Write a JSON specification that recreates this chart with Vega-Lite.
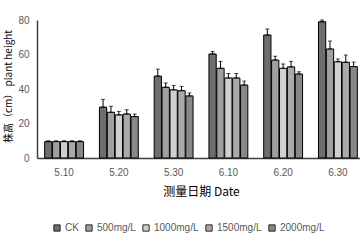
{
  "$schema": "https://vega.github.io/schema/vega-lite/v6.json",
  "autosize": "none",
  "width": 328,
  "height": 138,
  "padding": {"left": 37, "top": 20, "right": 0, "bottom": 82},
  "background": "white",
  "config": {
    "view": {"stroke": null},
    "font": "Liberation Sans",
    "axis": {"labelOverlap": false}
  },
  "data": {"values": [
    {"date": "5.10", "group": "CK", "value": 9.5, "upper": 10},
    {"date": "5.10", "group": "500mg/L", "value": 9.5, "upper": 10},
    {"date": "5.10", "group": "1000mg/L", "value": 9.5, "upper": 10},
    {"date": "5.10", "group": "1500mg/L", "value": 9.5, "upper": 10},
    {"date": "5.10", "group": "2000mg/L", "value": 9.5, "upper": 10},
    {"date": "5.20", "group": "CK", "value": 29.5, "upper": 34},
    {"date": "5.20", "group": "500mg/L", "value": 26.5, "upper": 30},
    {"date": "5.20", "group": "1000mg/L", "value": 25, "upper": 27},
    {"date": "5.20", "group": "1500mg/L", "value": 25.5, "upper": 28},
    {"date": "5.20", "group": "2000mg/L", "value": 24, "upper": 25.5},
    {"date": "5.30", "group": "CK", "value": 47.5, "upper": 51.5},
    {"date": "5.30", "group": "500mg/L", "value": 41, "upper": 43.5},
    {"date": "5.30", "group": "1000mg/L", "value": 39.5, "upper": 42},
    {"date": "5.30", "group": "1500mg/L", "value": 39, "upper": 41.5},
    {"date": "5.30", "group": "2000mg/L", "value": 36, "upper": 37.7},
    {"date": "6.10", "group": "CK", "value": 60.3, "upper": 61.8},
    {"date": "6.10", "group": "500mg/L", "value": 52, "upper": 56},
    {"date": "6.10", "group": "1000mg/L", "value": 46.4, "upper": 49},
    {"date": "6.10", "group": "1500mg/L", "value": 46.4, "upper": 49},
    {"date": "6.10", "group": "2000mg/L", "value": 42.3, "upper": 44.6},
    {"date": "6.20", "group": "CK", "value": 71.3, "upper": 74.8},
    {"date": "6.20", "group": "500mg/L", "value": 56.8, "upper": 59},
    {"date": "6.20", "group": "1000mg/L", "value": 52, "upper": 54.5},
    {"date": "6.20", "group": "1500mg/L", "value": 52.8, "upper": 56},
    {"date": "6.20", "group": "2000mg/L", "value": 48.7, "upper": 50},
    {"date": "6.30", "group": "CK", "value": 79, "upper": 80},
    {"date": "6.30", "group": "500mg/L", "value": 63.2, "upper": 67.8},
    {"date": "6.30", "group": "1000mg/L", "value": 55.8, "upper": 57.4},
    {"date": "6.30", "group": "1500mg/L", "value": 55.5, "upper": 59.7},
    {"date": "6.30", "group": "2000mg/L", "value": 53, "upper": 55.6}
  ]},
  "encoding": {
    "x": {
      "field": "date", "type": "nominal", "sort": null,
      "scale": {"paddingInner": 0.29, "paddingOuter": 0.14},
      "axis": {
        "title": "测量日期 Date", "titleFont": "Noto Sans CJK SC", "titleFontSize": 12, "titleFontWeight": "normal",
        "titleColor": "#000000", "titleY": 33, "titleBaseline": "middle",
        "labelAngle": 0, "labelFontSize": 10, "labelColor": "#595959", "labelPadding": 9,
        "ticks": false, "domainColor": "#404040", "domainWidth": 1.5
      }
    },
    "xOffset": {
      "field": "group", "type": "nominal", "sort": null,
      "scale": {"paddingInner": 0.08, "paddingOuter": 0}
    },
    "y": {
      "field": "value", "type": "quantitative",
      "scale": {"domain": [0, 80]},
      "axis": {
        "title": "株高（cm） plant height", "titleFont": "Noto Sans CJK SC", "titleFontSize": 10, "titleFontWeight": "normal",
        "titleColor": "#000000", "titleX": -29, "titleY": 66, "titleAngle": -90, "titleBaseline": "middle", "titleAlign": "center",
        "tickCount": {"expr": "8"}, "values": {"expr": "[0, 10, 20, 30, 40, 50, 60, 70, 80]"}, "labelOverlap": false,
        "labelFontSize": 10, "labelColor": "#595959", "labelPadding": 8,
        "tickSize": 0, "grid": false, "domainColor": "#404040", "domainWidth": 1.5
      }
    }
  },
  "layer": [
    {
      "mark": {"type": "bar", "stroke": "#000000", "strokeWidth": 1},
      "encoding": {
        "color": {
          "field": "group", "type": "nominal", "sort": null,
          "scale": {
            "domain": ["CK", "500mg/L", "1000mg/L", "1500mg/L", "2000mg/L"],
            "range": ["#6e6e6e", "#a0a0a0", "#d0d0d0", "#aaaaaa", "#888888"]
          },
          "legend": {
            "title": null, "orient": "none", "direction": "horizontal", "columns": 5,
            "legendX": 15, "legendY": 203,
            "symbolType": "square", "symbolSize": 40, "symbolStrokeColor": "#000000", "symbolStrokeWidth": 0.8,
            "labelFontSize": 10, "labelColor": "#595959", "labelOffset": 3, "columnPadding": 5
          }
        }
      }
    },
    {
      "mark": {"type": "errorbar", "ticks": {"size": 4, "color": "#000000", "thickness": 1}, "rule": {"color": "#000000", "strokeWidth": 1}},
      "encoding": {
        "y2": {"field": "upper"}
      }
    }
  ]
}
